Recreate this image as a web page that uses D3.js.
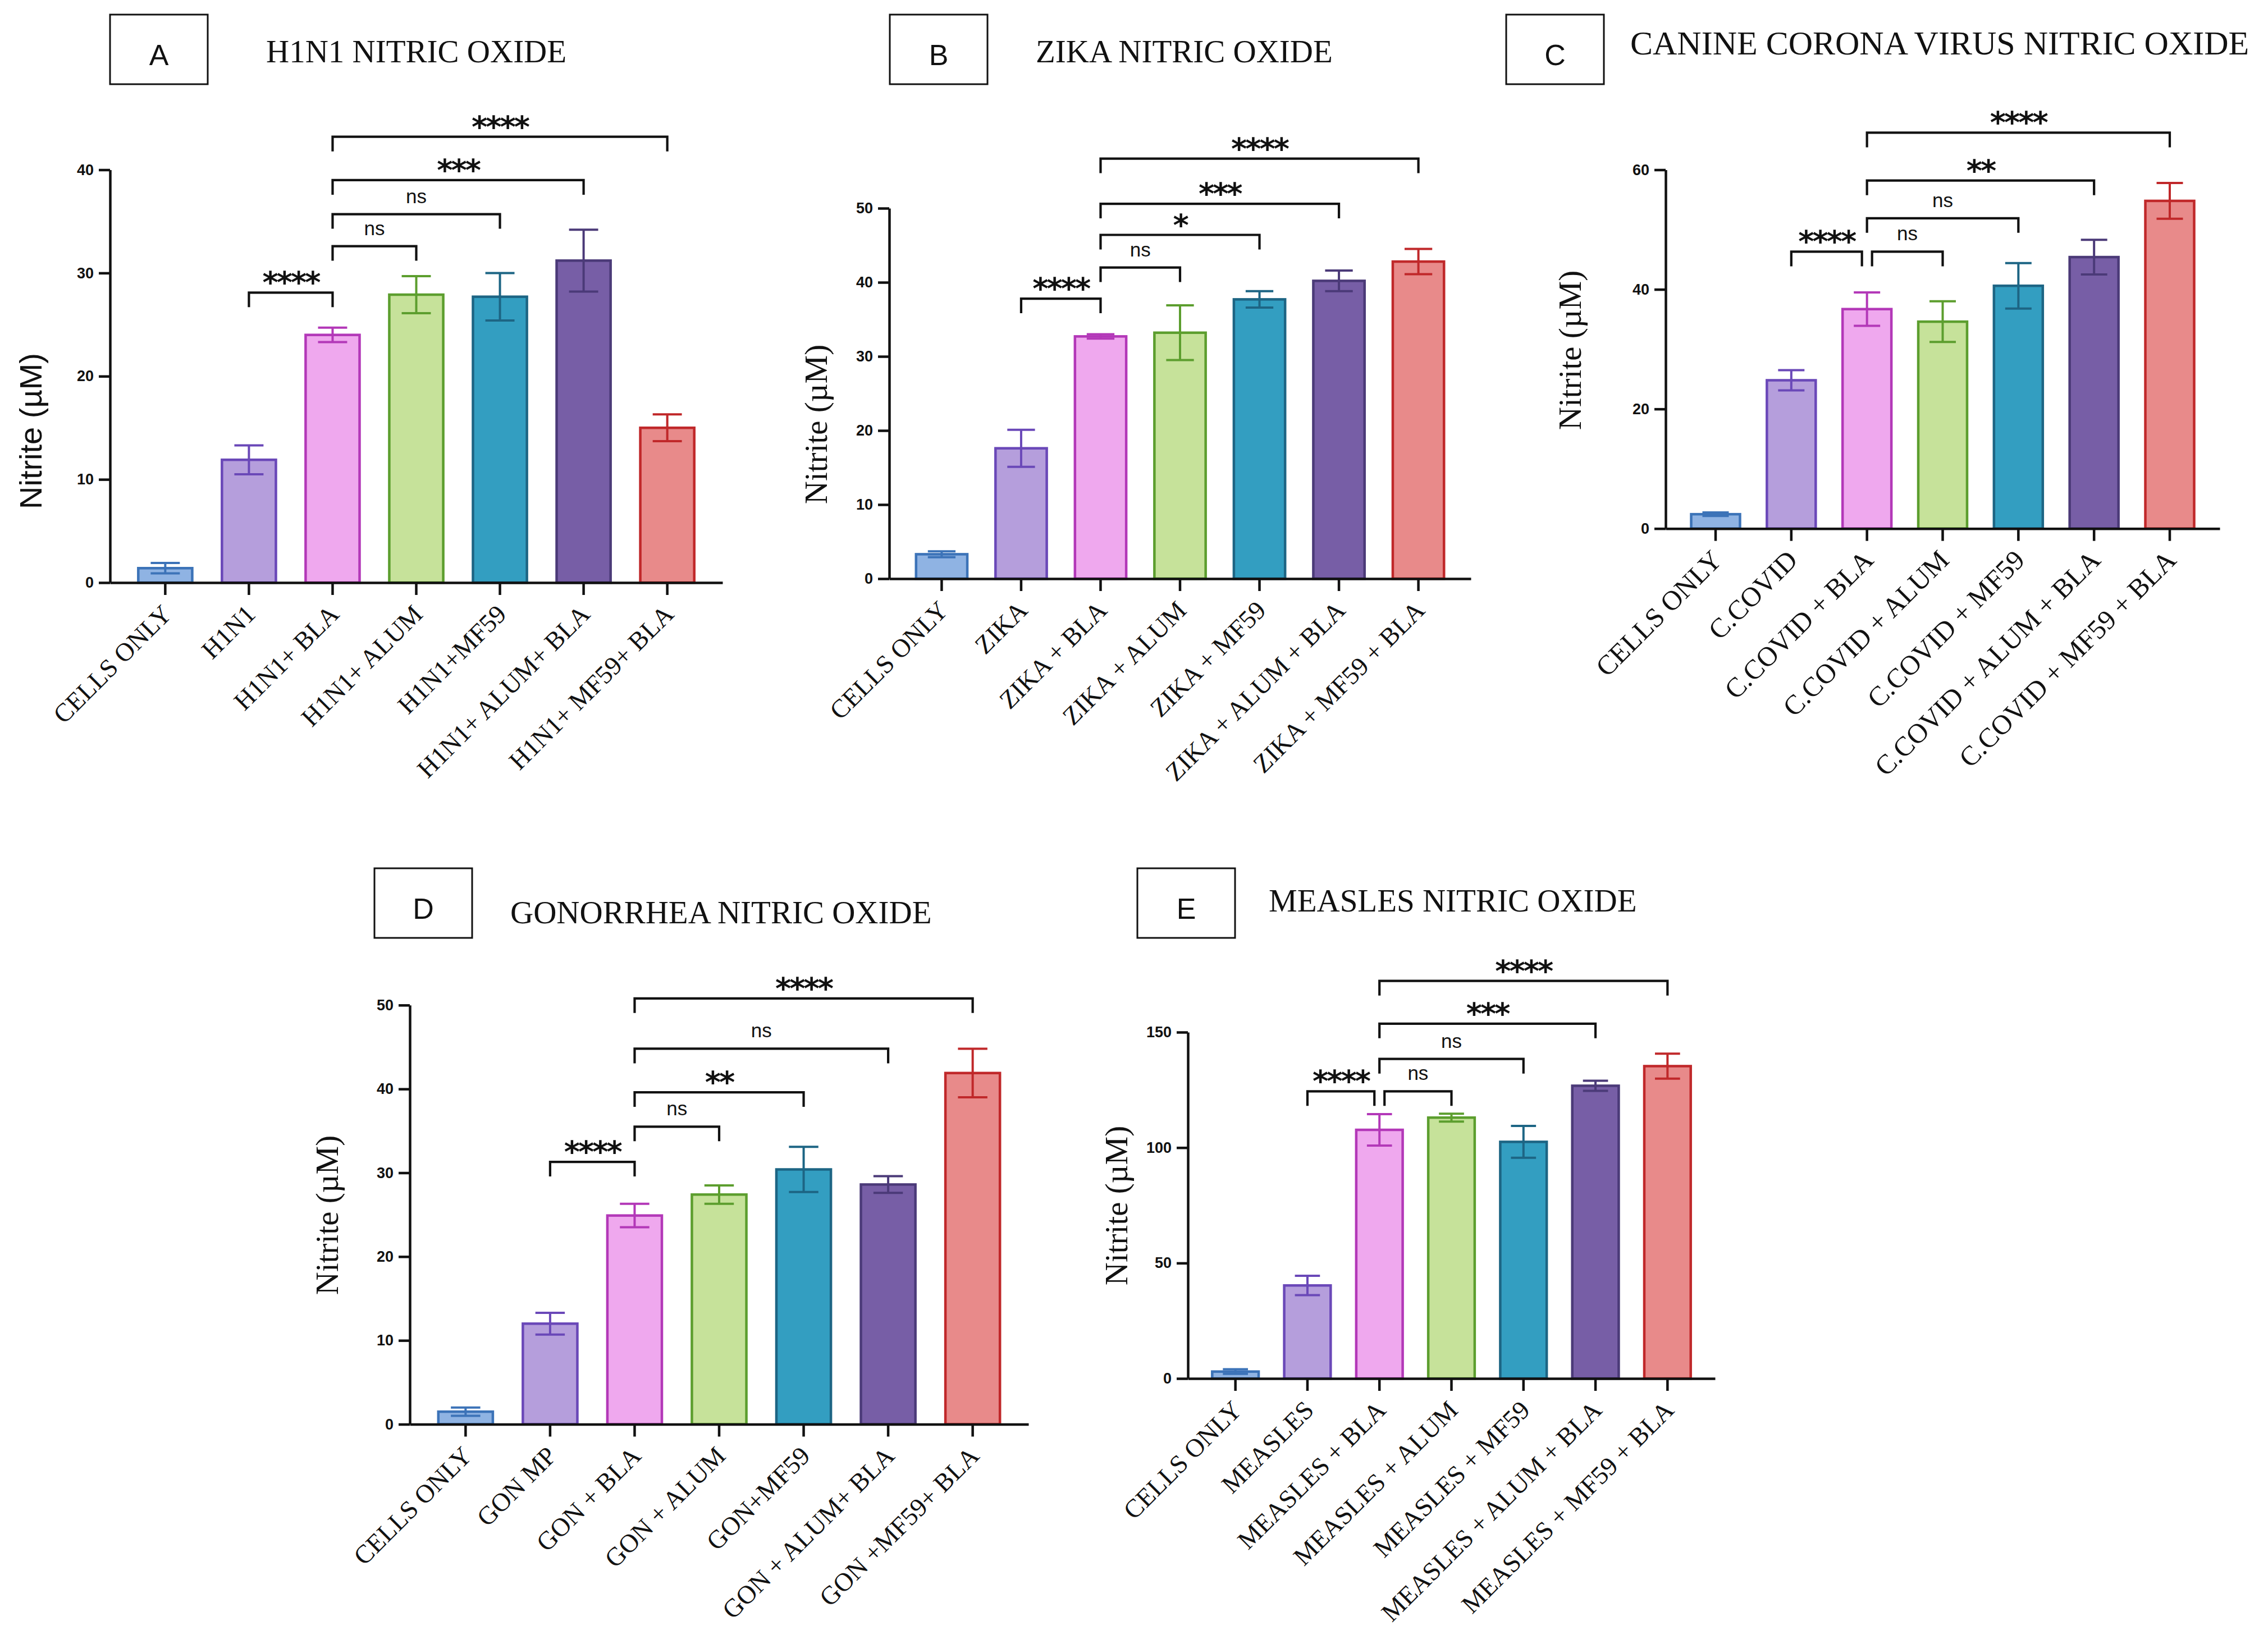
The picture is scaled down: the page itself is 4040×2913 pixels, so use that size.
<!DOCTYPE html>
<html><head><meta charset="utf-8">
<script src="https://cdn.jsdelivr.net/npm/d3@7"></script>
<style>body{margin:0;background:#fff}svg{display:block}</style>
</head><body>
<svg id="chart" width="4040" height="2913"></svg>
<script>
// ---------- DATA ----------
const panelLetters = ["A", "B", "C", "D", "E"];
const panelTitles = ["H1N1 NITRIC OXIDE", "ZIKA NITRIC OXIDE", "CANINE CORONA VIRUS NITRIC OXIDE", "GONORRHEA NITRIC OXIDE", "MEASLES NITRIC OXIDE"];
const yAxisLabel = "Nitrite (\u00B5M)";

const categoriesA = ["CELLS ONLY", "H1N1", "H1N1+ BLA", "H1N1+ ALUM", "H1N1+MF59", "H1N1+ ALUM+ BLA", "H1N1+ MF59+ BLA"];
const categoriesB = ["CELLS ONLY", "ZIKA", "ZIKA + BLA", "ZIKA + ALUM", "ZIKA + MF59", "ZIKA + ALUM + BLA", "ZIKA + MF59 + BLA"];
const categoriesC = ["CELLS ONLY", "C.COVID", "C.COVID + BLA", "C.COVID + ALUM", "C.COVID + MF59", "C.COVID + ALUM + BLA", "C.COVID + MF59 + BLA"];
const categoriesD = ["CELLS ONLY", "GON MP", "GON + BLA", "GON + ALUM", "GON+MF59", "GON + ALUM+ BLA", "GON +MF59+ BLA"];
const categoriesE = ["CELLS ONLY", "MEASLES", "MEASLES + BLA", "MEASLES + ALUM", "MEASLES + MF59", "MEASLES + ALUM + BLA", "MEASLES + MF59 + BLA"];

const meansA = [1.4, 11.9, 24.0, 27.9, 27.7, 31.2, 15.0];
const errorsA = [0.5, 1.4, 0.7, 1.8, 2.3, 3.0, 1.3];
const meansB = [3.3, 17.6, 32.7, 33.2, 37.7, 40.2, 42.8];
const errorsB = [0.4, 2.5, 0.3, 3.7, 1.1, 1.4, 1.7];
const meansC = [2.4, 24.8, 36.7, 34.6, 40.6, 45.4, 54.8];
const errorsC = [0.3, 1.7, 2.8, 3.4, 3.8, 2.9, 3.0];
const meansD = [1.5, 12.0, 24.9, 27.4, 30.4, 28.6, 41.9];
const errorsD = [0.5, 1.3, 1.4, 1.1, 2.7, 1.0, 2.9];
const meansE = [3.0, 40.3, 107.7, 113.0, 102.5, 126.8, 135.3];
const errorsE = [1.0, 4.2, 6.8, 1.7, 6.9, 2.2, 5.4];

const yTicksA = [0, 10, 20, 30, 40];
const yTicksB = [0, 10, 20, 30, 40, 50];
const yTicksC = [0, 20, 40, 60];
const yTicksD = [0, 10, 20, 30, 40, 50];
const yTicksE = [0, 50, 100, 150];

// [from index, to index, label, height in data units, split at shared bar]
const bracketsA = [[1, 2, "****", 28.1, false], [2, 3, "ns", 32.6, false], [2, 4, "ns", 35.7, false], [2, 5, "***", 39.0, false], [2, 6, "****", 43.2, false]];
const bracketsB = [[1, 2, "****", 37.8, false], [2, 3, "ns", 42.0, false], [2, 4, "*", 46.4, false], [2, 5, "***", 50.6, false], [2, 6, "****", 56.7, false]];
const bracketsC = [[1, 2, "****", 46.3, true], [2, 3, "ns", 46.3, true], [2, 4, "ns", 51.9, false], [2, 5, "**", 58.2, false], [2, 6, "****", 66.2, false]];
const bracketsD = [[1, 2, "****", 31.3, false], [2, 3, "ns", 35.5, false], [2, 4, "**", 39.6, false], [2, 5, "ns", 44.8, false], [2, 6, "****", 50.8, false]];
const bracketsE = [[1, 2, "****", 124.4, true], [2, 3, "ns", 124.4, true], [2, 4, "ns", 138.4, false], [2, 5, "***", 153.7, false], [2, 6, "****", 172.2, false]];

const barFills = ["#8fb3e3", "#b59edc", "#efa8ee", "#c6e29a", "#339ec1", "#775ea6", "#e88a8a"];
const barStrokes = ["#3c73b8", "#6a48b8", "#b338b8", "#5c9e2e", "#1d6584", "#4b3a78", "#c0282a"];

const panelCategories = [categoriesA, categoriesB, categoriesC, categoriesD, categoriesE];
const panelMeans = [meansA, meansB, meansC, meansD, meansE];
const panelErrors = [errorsA, errorsB, errorsC, errorsD, errorsE];
const panelTicks = [yTicksA, yTicksB, yTicksC, yTicksD, yTicksE];
const panelBrackets = [bracketsA, bracketsB, bracketsC, bracketsD, bracketsE];

// ---------- LAYOUT ----------
const layout = [
  {bx: 196, by: 26, tx: 474, ty: 111, ts: 57, x0: 196, x1: 1287, y0: 1038, yTop: 302.5, lx: 74, ly: 768, lsans: true, xs: 46},
  {bx: 1585, by: 26, tx: 1845, ty: 111, ts: 57, x0: 1584, x1: 2620, y0: 1031, yTop: 371, lx: 1473, ly: 756, lsans: false, xs: 46},
  {bx: 2683, by: 26, tx: 2904, ty: 97, ts: 60, x0: 2967, x1: 3954, y0: 941.7, yTop: 302.5, lx: 2816, ly: 624, lsans: false, xs: 49},
  {bx: 667, by: 1547, tx: 909, ty: 1645, ts: 57, x0: 730, x1: 1832, y0: 2537.5, yTop: 1790.8, lx: 602, ly: 2165, lsans: false, xs: 46},
  {bx: 2026, by: 1547, tx: 2260, ty: 1624, ts: 57, x0: 2116, x1: 3055, y0: 2456, yTop: 1839, lx: 2008, ly: 2148, lsans: false, xs: 46}
];

const SANS = "'Liberation Sans', Arial, Helvetica, sans-serif";
const SERIF = "'Liberation Serif', 'Times New Roman', Times, serif";
const INK = "#111";

const svg = d3.select("#chart");
svg.append("rect").attr("width", 4040).attr("height", 2913).attr("fill", "#fff");

layout.forEach((L, p) => {
  const cats = panelCategories[p], means = panelMeans[p], errs = panelErrors[p];
  const ticks = panelTicks[p];
  const g = svg.append("g");

  // letter box
  g.append("rect").attr("x", L.bx).attr("y", L.by).attr("width", 174).attr("height", 124)
    .attr("fill", "none").attr("stroke", INK).attr("stroke-width", 3);
  g.append("text").attr("x", L.bx + 87).attr("y", L.by + 90).attr("text-anchor", "middle")
    .attr("font-family", SANS).attr("font-size", 52).attr("fill", INK).text(panelLetters[p]);
  // title
  g.append("text").attr("x", L.tx).attr("y", L.ty).attr("font-family", SERIF)
    .attr("font-size", L.ts).attr("fill", INK).text(panelTitles[p]);

  // scales
  const x = d3.scaleBand().domain(d3.range(cats.length)).range([L.x0, L.x1])
    .paddingInner(0.355).paddingOuter(0.3375);
  const yMax = ticks[ticks.length - 1];
  const y = d3.scaleLinear().domain([0, yMax]).range([L.y0, L.yTop]);

  // bars
  g.selectAll("rect.bar").data(means).join("rect").attr("class", "bar")
    .attr("x", (d, i) => x(i)).attr("width", x.bandwidth())
    .attr("y", d => y(d)).attr("height", d => y(0) - y(d))
    .attr("fill", (d, i) => barFills[i]).attr("stroke", (d, i) => barStrokes[i])
    .attr("stroke-width", 4.5);

  // error bars
  const capW = x.bandwidth() * 0.54;
  const eg = g.selectAll("g.err").data(means).join("g").attr("class", "err")
    .attr("stroke", (d, i) => barStrokes[i]).attr("stroke-width", 4).attr("fill", "none");
  eg.append("line").attr("x1", (d, i) => x(i) + x.bandwidth() / 2).attr("x2", (d, i) => x(i) + x.bandwidth() / 2)
    .attr("y1", (d, i) => y(d - errs[i])).attr("y2", (d, i) => y(d + errs[i]));
  eg.append("line").attr("x1", (d, i) => x(i) + x.bandwidth() / 2 - capW / 2).attr("x2", (d, i) => x(i) + x.bandwidth() / 2 + capW / 2)
    .attr("y1", (d, i) => y(d + errs[i])).attr("y2", (d, i) => y(d + errs[i]));
  eg.append("line").attr("x1", (d, i) => x(i) + x.bandwidth() / 2 - capW / 2).attr("x2", (d, i) => x(i) + x.bandwidth() / 2 + capW / 2)
    .attr("y1", (d, i) => y(d - errs[i])).attr("y2", (d, i) => y(d - errs[i]));

  // y axis
  const ya = g.append("g").attr("transform", `translate(${L.x0},0)`)
    .call(d3.axisLeft(y).tickValues(ticks).tickSize(20).tickSizeOuter(0).tickPadding(9));
  ya.select(".domain").attr("stroke", INK).attr("stroke-width", 4.5);
  ya.selectAll(".tick line").attr("stroke", INK).attr("stroke-width", 4.5);
  ya.selectAll(".tick text").attr("font-family", SANS).attr("font-weight", "bold")
    .attr("font-size", 27).attr("fill", INK);

  // x axis
  const xa = g.append("g").attr("transform", `translate(0,${L.y0})`)
    .call(d3.axisBottom(x).tickSize(22).tickSizeOuter(0).tickFormat(i => cats[i]));
  xa.select(".domain").attr("stroke", INK).attr("stroke-width", 4.5);
  xa.selectAll(".tick line").attr("stroke", INK).attr("stroke-width", 4.5);
  xa.selectAll(".tick text").attr("font-family", SERIF).attr("font-size", L.xs).attr("fill", INK)
    .attr("x", 0).attr("y", 0).attr("dy", 0).attr("text-anchor", "end")
    .attr("transform", `translate(14,59) rotate(-45)`);

  // y label
  g.append("text").attr("transform", `translate(${L.lx},${L.ly}) rotate(-90)`)
    .attr("text-anchor", "middle").attr("font-family", L.lsans ? SANS : SERIF)
    .attr("font-size", L.lsans ? 56 : 57).attr("fill", INK).text(yAxisLabel);

  // significance brackets
  const bg = g.append("g");
  panelBrackets[p].forEach(([a, b, lab, h, split]) => {
    let xa1 = x(a) + x.bandwidth() / 2, xb1 = x(b) + x.bandwidth() / 2;
    if (split) { if (a === 2) xa1 += 9; if (b === 2) xb1 -= 9; }
    const yy = y(h);
    bg.append("path").attr("d", `M${xa1},${yy + 26}V${yy}H${xb1}V${yy + 26}`)
      .attr("fill", "none").attr("stroke", INK).attr("stroke-width", 4.2);
    const isNs = lab === "ns";
    bg.append("text").attr("x", (xa1 + xb1) / 2).attr("y", isNs ? yy - 20 : yy + 1)
      .attr("text-anchor", "middle")
      .attr("font-family", isNs ? SANS : "'DejaVu Sans', sans-serif")
      .attr("font-weight", isNs ? "normal" : "bold")
      .attr("font-size", isNs ? 35 : 54)
      .attr("letter-spacing", isNs ? 0 : -3)
      .attr("fill", INK).text(lab);
  });
});
</script>
</body></html>
